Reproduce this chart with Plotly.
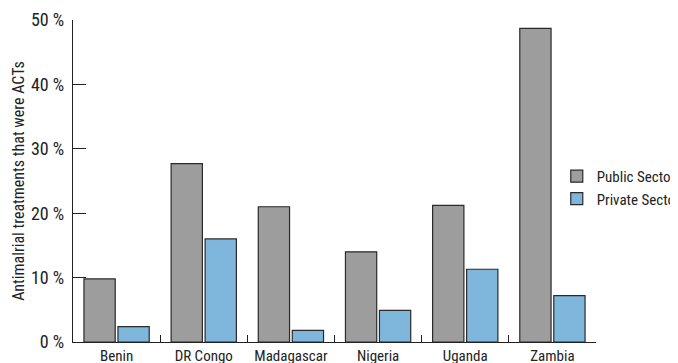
import plotly.graph_objects as go

countries = ["Benin", "DR Congo", "Madagascar", "Nigeria", "Uganda", "Zambia"]
public_sector = [9.8, 27.7, 21.0, 14.0, 21.2, 48.7]
private_sector = [2.4, 16.0, 1.8, 4.9, 11.3, 7.2]
series_names = ["Public Sector", "Private Sector"]
y_tick_vals = [0, 10, 20, 30, 40, 50]
y_tick_text = ["0 %", "10 %", "20 %", "30 %", "40 %", "50 %"]

FONT = "Roboto Condensed, DejaVu Sans Condensed, sans-serif"
INK = "#222222"

fig = go.Figure()
fig.add_trace(go.Bar(
    x=countries, y=public_sector, name=series_names[0],
    marker=dict(color="#9d9d9d", line=dict(color="#2a2a2a", width=1.2)),
))
fig.add_trace(go.Bar(
    x=countries, y=private_sector, name=series_names[1],
    marker=dict(color="#7fb6dc", line=dict(color="#2a2a2a", width=1.2)),
))

# the page body adds an 8 px offset, so the figure is 8 px smaller on each side
fig.update_layout(
    width=670, height=355,
    margin=dict(l=65, r=82, t=12, b=21, autoexpand=False),
    paper_bgcolor="white", plot_bgcolor="white",
    font=dict(family=FONT, size=15, color=INK),
    barmode="group", bargap=0.22, bargroupgap=0.08,
    showlegend=True,
    legend=dict(x=0.925, xanchor="left", y=0.48, yanchor="middle",
                font=dict(size=15, family=FONT, color=INK), bgcolor="rgba(0,0,0,0)",
                tracegroupgap=0, borderwidth=0),
)
fig.update_xaxes(
    showline=True, linecolor=INK, linewidth=1.3,
    ticks="inside", ticklen=7, tickcolor=INK, tickwidth=1.3,
    tickson="boundaries", showgrid=False, tickangle=0, automargin=False,
    tickfont=dict(size=15, family=FONT, color=INK),
)
fig.update_yaxes(
    range=[0, 50], tickvals=y_tick_vals, ticktext=y_tick_text,
    showline=True, linecolor=INK, linewidth=1.3,
    ticks="inside", ticklen=13, tickcolor=INK, tickwidth=1.3,
    showgrid=False, zeroline=False, automargin=False,
    tickfont=dict(size=18, family=FONT, color=INK), ticklabelstandoff=4,
    title=dict(text="Antimalrial treatments that were ACTs",
               font=dict(size=16, family=FONT, color=INK), standoff=2),
)

# hide the page scrollbar, which otherwise covers the right edge of the legend text
fig.write_html(
    "out.html",
    post_script="document.documentElement.style.overflow='hidden';document.body.style.overflow='hidden';",
)
